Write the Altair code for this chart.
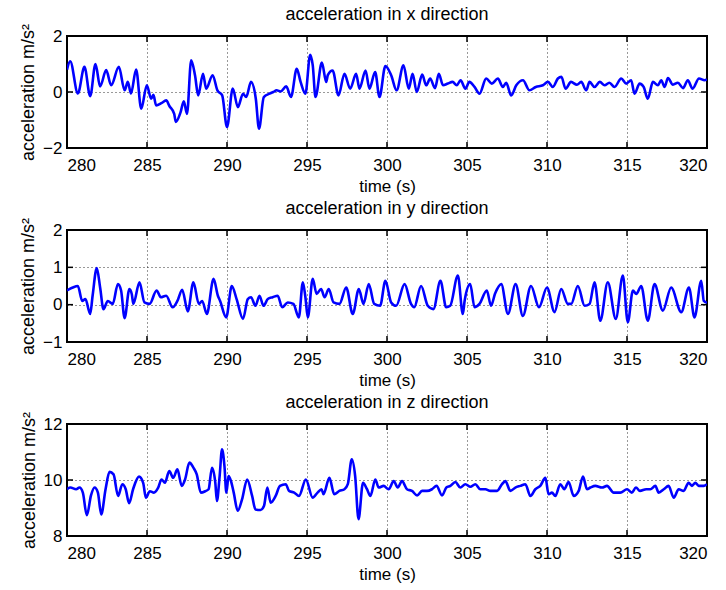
import altair as alt
import pandas as pd

# --- acceleration in x direction (m/s^2) ---
x_time = [280.0, 280.2, 280.68, 281.09, 281.45, 281.78, 282.07, 282.45, 282.76, 283.24,
          283.6, 283.8, 284.0, 284.32, 284.64, 284.99, 285.26, 285.4, 285.57, 285.9,
          286.2, 286.4, 286.7, 286.8, 287.1, 287.3, 287.5, 287.76, 288.0, 288.2,
          288.5, 288.7, 289.1, 289.4, 289.7, 290.0, 290.36, 290.68, 291.0, 291.2,
          291.5, 291.8, 292.0, 292.3, 292.66, 292.9, 293.1, 293.35, 293.7, 294.0,
          294.36, 294.6, 294.9, 295.2, 295.36, 295.53, 295.93, 296.2, 296.3, 296.6,
          296.97, 297.34, 297.7, 298.07, 298.28, 298.66, 298.9, 299.26, 299.53, 299.9,
          300.26, 300.6, 301.03, 301.36, 301.6, 301.86, 302.2, 302.45, 302.7, 303.0,
          303.24, 303.5, 303.8, 304.1, 304.36, 304.6, 304.9, 305.15, 305.47, 305.78,
          306.2, 306.55, 306.93, 307.24, 307.45, 307.76, 308.08, 308.5, 308.9, 309.3,
          309.74, 310.06, 310.37, 310.68, 310.9, 311.16, 311.5, 311.87, 312.14, 312.45,
          312.66, 312.97, 313.3, 313.6, 313.9, 314.22, 314.64, 314.95, 315.26, 315.47,
          315.79, 316.04, 316.3, 316.62, 316.93, 317.14, 317.35, 317.56, 317.87, 318.18,
          318.5, 318.8, 319.1, 319.5, 319.85, 320.0]
x_acc = [0.8, 1.1, -0.05, 0.9, -0.15, 1.0, 0.2, 0.78, 0.24, 0.9,
         0.06, 0.36, -0.05, 0.8, -0.6, 0.24, -0.24, -0.1, -0.48, -0.4,
         -0.3, -0.5, -0.78, -1.07, -0.72, -0.33, -0.78, 1.13, 0.6, -0.12,
         0.65, 0.12, 0.6, 0.06, -0.12, -1.25, 0.12, -0.54, -0.06, -0.18,
         0.36, -0.24, -1.31, -0.18, -0.06, 0.0, 0.06, 0.02, 0.2, -0.18,
         0.83, 0.36, -0.06, 1.33, 0.95, -0.18, 1.05, 0.36, 0.6, 0.77,
         -0.12, 0.65, 0.12, 0.65, 0.12, 0.77, 0.12, 0.71, -0.18, 0.93,
         0.6, 0.06, 0.95, 0.12, 0.65, 0.0, 0.62, 0.24, 0.48, 0.14,
         0.65, 0.24, 0.3, 0.36, 0.24, 0.42, 0.12, 0.36, 0.18, -0.06,
         0.48, 0.3, 0.48, 0.18, 0.33, -0.12, 0.24, 0.42, 0.06, 0.18,
         0.24, 0.36, 0.18, 0.48, 0.54, 0.12, 0.36, 0.26, 0.36, 0.06,
         0.36, 0.18, 0.36, 0.24, 0.33, 0.18, 0.48, 0.3, 0.42, -0.06,
         0.3, 0.18, -0.24, 0.36, 0.24, 0.42, 0.18, 0.5, 0.26, 0.33,
         0.14, 0.42, 0.12, 0.48, 0.42, 0.45]

# --- acceleration in y direction (m/s^2) ---
y_time = [280.0, 280.36, 280.68, 280.95, 281.15, 281.45, 281.6, 281.86, 282.07, 282.28,
          282.55, 282.86, 283.18, 283.38, 283.6, 283.9, 284.05, 284.15, 284.53, 284.84,
          285.16, 285.6, 285.86, 286.2, 286.6, 286.9, 287.2, 287.55, 287.9, 288.24,
          288.45, 288.74, 289.16, 289.43, 289.57, 289.95, 290.3, 290.6, 291.0, 291.3,
          291.5, 291.78, 292.03, 292.28, 292.55, 292.86, 293.17, 293.45, 293.8, 294.15,
          294.49, 294.74, 294.9, 295.05, 295.36, 295.6, 295.88, 296.1, 296.36, 296.66,
          297.03, 297.45, 297.86, 298.24, 298.53, 298.86, 299.2, 299.57, 299.9, 300.26,
          300.57, 301.1, 301.5, 301.7, 302.13, 302.55, 302.9, 303.34, 303.7, 303.95,
          304.43, 304.74, 304.85, 305.2, 305.47, 305.78, 306.24, 306.5, 306.75, 307.14,
          307.56, 308.04, 308.49, 309.0, 309.5, 310.0, 310.47, 310.89, 311.3, 311.51,
          311.93, 312.35, 312.66, 312.97, 313.33, 313.8, 314.3, 314.74, 315.05, 315.37,
          315.58, 315.89, 316.3, 316.72, 317.24, 317.76, 318.39, 318.87, 319.22, 319.64,
          319.8, 320.0]
y_acc = [0.38, 0.46, 0.5, 0.1, 0.15, -0.25, 0.24, 0.98, 0.46, -0.12,
         0.1, 0.02, 0.55, 0.38, -0.36, 0.42, 0.28, 0.02, 0.6, 0.06,
         0.02, 0.38, 0.2, 0.24, -0.07, 0.1, 0.4, -0.18, 0.6, 0.02,
         0.1, -0.25, 0.69, 0.24, 0.1, -0.34, 0.5, 0.15, -0.38, 0.15,
         0.2, -0.03, 0.24, -0.03, 0.15, 0.2, 0.24, -0.07, 0.06, 0.02,
         -0.34, 0.6, 0.2, -0.34, 0.69, 0.29, 0.42, 0.2, 0.42, 0.06,
         0.02, 0.46, -0.25, 0.42, 0.02, 0.55, 0.02, -0.03, 0.64, 0.06,
         -0.03, 0.55, 0.02, -0.07, 0.5, -0.03, -0.12, 0.64, -0.07, -0.03,
         0.78, -0.25, 0.1, 0.55, -0.07, 0.02, 0.38, -0.03, 0.29, 0.55,
         -0.25, 0.55, -0.3, 0.5, -0.07, 0.46, -0.2, 0.42, 0.02, 0.02,
         0.5, -0.03, 0.02, 0.6, -0.43, 0.6, -0.38, 0.78, -0.47, 0.38,
         0.29, 0.5, -0.43, 0.55, -0.16, 0.46, -0.2, 0.46, -0.34, 0.64,
         0.1, 0.05]

# --- acceleration in z direction (m/s^2) ---
z_time = [280.0, 280.21, 280.57, 280.78, 280.99, 281.24, 281.5, 281.72, 281.93, 282.14,
          282.41, 282.66, 282.91, 283.19, 283.46, 283.67, 283.88, 284.13, 284.5, 284.76,
          284.93, 285.18, 285.43, 285.7, 285.91, 286.12, 286.39, 286.64, 286.9, 287.17,
          287.38, 287.65, 287.9, 288.11, 288.36, 288.64, 288.85, 289.06, 289.27, 289.37,
          289.54, 289.69, 289.84, 289.96, 290.1, 290.25, 290.42, 290.67, 290.94, 291.26,
          291.57, 291.78, 292.1, 292.31, 292.52, 292.73, 293.04, 293.31, 293.67, 293.88,
          294.2, 294.5, 294.93, 295.35, 295.66, 295.91, 296.03, 296.4, 296.7, 297.02,
          297.34, 297.55, 297.8, 298.01, 298.22, 298.5, 298.75, 298.96, 299.27, 299.48,
          299.79, 300.1, 300.42, 300.67, 300.94, 301.25, 301.56, 301.88, 302.19, 302.5,
          302.81, 303.1, 303.44, 303.71, 303.96, 304.27, 304.58, 304.9, 305.21, 305.52,
          305.83, 306.15, 306.46, 306.88, 307.19, 307.4, 307.71, 308.02, 308.33, 308.65,
          308.96, 309.27, 309.58, 309.9, 310.1, 310.31, 310.52, 310.83, 311.08, 311.35,
          311.67, 311.98, 312.25, 312.5, 312.71, 313.02, 313.44, 313.75, 314.17, 314.58,
          315.0, 315.3, 315.56, 315.81, 316.2, 316.46, 316.77, 316.98, 317.3, 317.6,
          317.92, 318.23, 318.54, 318.85, 319.06, 319.27, 319.48, 319.8, 320.0]
z_acc = [9.67, 9.73, 9.67, 9.73, 9.55, 8.74, 9.45, 9.73, 9.55, 8.77,
         9.67, 10.29, 10.2, 9.43, 9.85, 9.67, 9.17, 9.67, 10.12, 9.9,
         9.37, 9.6, 9.55, 9.73, 10.02, 9.9, 10.32, 10.08, 10.38, 9.79,
         10.02, 10.62, 10.44, 10.2, 9.55, 9.6, 9.67, 10.44, 9.9, 9.25,
         10.14, 11.1, 10.5, 9.55, 10.14, 9.96, 9.55, 8.9, 9.31, 10.02,
         9.43, 8.95, 8.93, 9.07, 9.73, 9.19, 9.43, 9.79, 9.85, 9.61,
         9.55, 9.43, 10.02, 9.37, 9.55, 9.67, 9.49, 10.08, 9.49, 9.61,
         9.67, 9.85, 10.74, 10.14, 8.6, 9.9, 9.67, 9.43, 10.02, 9.73,
         9.79, 9.67, 9.96, 9.73, 9.96, 9.67, 9.61, 9.45, 9.61, 9.61,
         9.67, 9.79, 9.45, 9.73, 9.79, 9.93, 9.73, 9.85, 9.76, 9.85,
         9.67, 9.67, 9.61, 9.61, 9.85, 9.96, 9.61, 9.73, 9.79, 9.85,
         9.43, 9.67, 9.79, 10.08, 9.49, 9.55, 9.43, 9.85, 9.67, 9.93,
         9.43, 9.61, 10.12, 9.67, 9.73, 9.79, 9.73, 9.79, 9.55, 9.55,
         9.67, 9.55, 9.73, 9.61, 9.67, 9.67, 9.79, 9.55, 9.67, 9.79,
         9.37, 9.67, 9.61, 9.9, 9.79, 9.9, 9.79, 9.79, 9.85]

time_ticks = [280, 285, 290, 295, 300, 305, 310, 315, 320]
x_ticks = [-2, 0, 2]
y_ticks = [-1, 0, 1, 2]
z_ticks = [8, 10, 12]

W, H = 640, 112
TL = 6  # inward tick length
FONT = "Liberation Sans"
FS = 17


def panel(times, values, title, ticks):
    df = pd.DataFrame({"t": times, "a": values})
    lo, hi = ticks[0], ticks[-1]
    x_axis = alt.Axis(values=time_ticks, title="time (s)", format="d")
    y_axis = alt.Axis(values=ticks, title="acceleration m/s²", format="d")
    x_scale = alt.Scale(domain=[280, 320], nice=False, zero=False)
    y_scale = alt.Scale(domain=[lo, hi], nice=False, zero=False)

    line = alt.Chart(df).mark_line(color="#0000ff", strokeWidth=2.6,
                                   interpolate="monotone", clip=True).encode(
        x=alt.X("t:Q", scale=x_scale, axis=x_axis),
        y=alt.Y("a:Q", scale=y_scale, axis=y_axis),
    )

    # inward tick marks on all four sides of the box
    tdf = pd.DataFrame({"t": time_ticks})
    vdf = pd.DataFrame({"a": ticks})
    tx = alt.X("t:Q", scale=x_scale, axis=x_axis)
    vy = alt.Y("a:Q", scale=y_scale, axis=y_axis)
    rule = dict(color="black", strokeWidth=1.5)
    top_t = alt.Chart(tdf).mark_rule(**rule).encode(x=tx, y=alt.value(0), y2=alt.value(TL))
    bot_t = alt.Chart(tdf).mark_rule(**rule).encode(x=tx, y=alt.value(H - TL), y2=alt.value(H))
    left_t = alt.Chart(vdf).mark_rule(**rule).encode(y=vy, x=alt.value(0), x2=alt.value(TL))
    right_t = alt.Chart(vdf).mark_rule(**rule).encode(y=vy, x=alt.value(W - TL), x2=alt.value(W))

    return alt.layer(line, top_t, bot_t, left_t, right_t).properties(
        width=W, height=H,
        title=alt.TitleParams(title, fontSize=18, fontWeight="normal", font=FONT,
                              offset=-1, color="black"),
    )


chart = alt.vconcat(
    panel(x_time, x_acc, "acceleration in x direction", x_ticks),
    panel(y_time, y_acc, "acceleration in y direction", y_ticks),
    panel(z_time, z_acc, "acceleration in z direction", z_ticks),
    spacing=82, bounds="flush",
).resolve_scale(x="independent", y="independent").configure(
    background="white",
    padding={"left": 18, "top": 5, "right": 0, "bottom": 0},
).configure_view(
    stroke="black", strokeWidth=2,
).configure_axis(
    domain=False, ticks=False, grid=True, gridColor="black", gridDash=[1, 3],
    gridWidth=1, gridOpacity=0.8,
    labelFont=FONT, labelFontSize=FS, labelColor="black",
    titleFont=FONT, titleFontSize=FS, titleFontWeight="normal", titleColor="black",
    labelPadding=5,
).configure_axisX(
    labelPadding=9, titlePadding=5,
).configure_axisY(
    titlePadding=5, titleFontSize=18,
)

chart.save("out.html", embed_options={"renderer": "svg", "actions": False})
